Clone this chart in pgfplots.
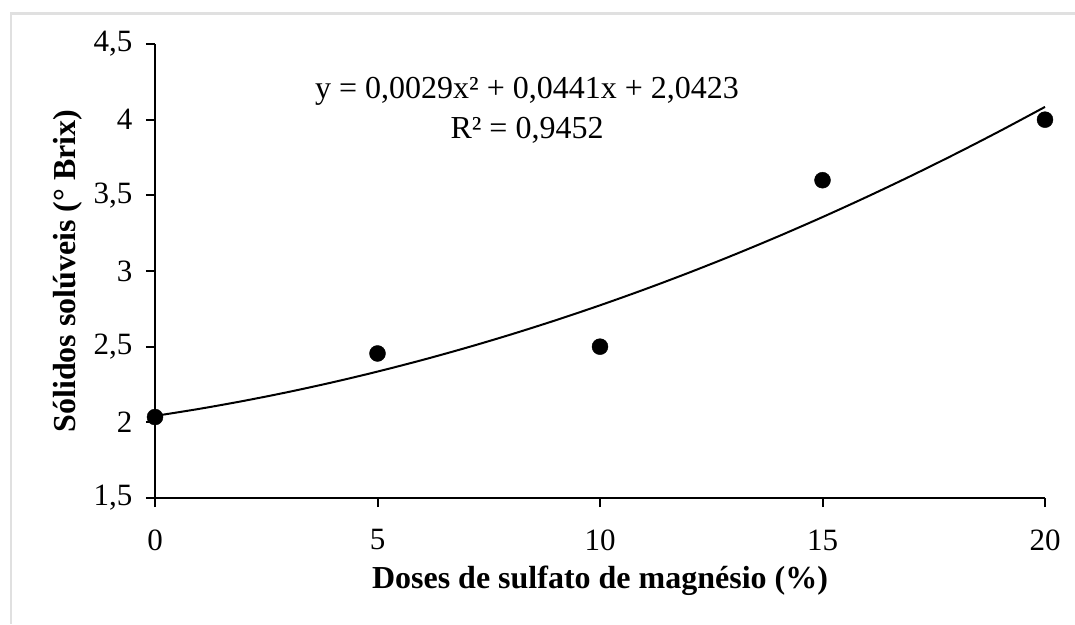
\documentclass[border=0pt]{standalone}
\usepackage{pgfplots}
\pgfplotsset{compat=1.18}
\usepackage{fontspec}
\setmainfont{Liberation Serif}

\begin{document}
\begin{tikzpicture}
\useasboundingbox (0pt,0pt) rectangle (1075pt,624pt);
% light frame of the original figure
\draw[black!12, line width=2.5pt] (11pt,0pt) -- (11pt,610.5pt) -- (1075pt,610.5pt);

\begin{axis}[
  at={(155pt,126pt)}, anchor=south west,
  scale only axis,
  width=890pt, height=454pt,
  xmin=0, xmax=20,
  ymin=1.5, ymax=4.5,
  xtick={0,5,10,15,20},
  ytick={1.5,2,2.5,3,3.5,4,4.5},
  axis x line*=bottom, axis y line*=left,
  axis line style={-, line width=2pt},
  tick align=outside,
  major tick length=9pt,
  every tick/.style={black, line width=2pt},
  font=\fontsize{31}{37}\selectfont,
  /pgf/number format/assume math mode=true,
  /pgf/number format/use comma,
  xticklabel style={yshift=-19pt},
  yticklabel style={xshift=-10pt},
  xlabel={\bfseries Doses de sulfato de magnésio (\%)},
  ylabel={\bfseries Sólidos solúveis (° Brix)},
  xlabel style={font=\fontsize{32}{37}\selectfont, at={(axis description cs:0.5,-0.183)}, anchor=center},
  ylabel style={font=\fontsize{32}{37}\selectfont, at={(axis description cs:-0.0985,0.5)}, anchor=center, rotate=0},
  clip=false,
]
% quadratic trend line
\addplot[black, line width=2pt, smooth] coordinates {
(0,2.0423) (1,2.0893) (2,2.1421) (3,2.2007) (4,2.2651) (5,2.3353)
(6,2.4113) (7,2.4931) (8,2.5807) (9,2.6741) (10,2.7733) (11,2.8783)
(12,2.9891) (13,3.1057) (14,3.2281) (15,3.3563) (16,3.4903) (17,3.6301)
(18,3.7757) (19,3.9271) (20,4.0843)
};
% observed means
\addplot[only marks, mark=*, mark size=8pt, black] coordinates {
(0,2.035) (5,2.455) (10,2.5) (15,3.6) (20,4.0)
};
\node[align=center, font=\fontsize{32}{40}\selectfont]
  at (axis cs:8.36,4.06) {y = 0,0029x² + 0,0441x + 2,0423\\R² = 0,9452};
\end{axis}
\end{tikzpicture}
\end{document}
